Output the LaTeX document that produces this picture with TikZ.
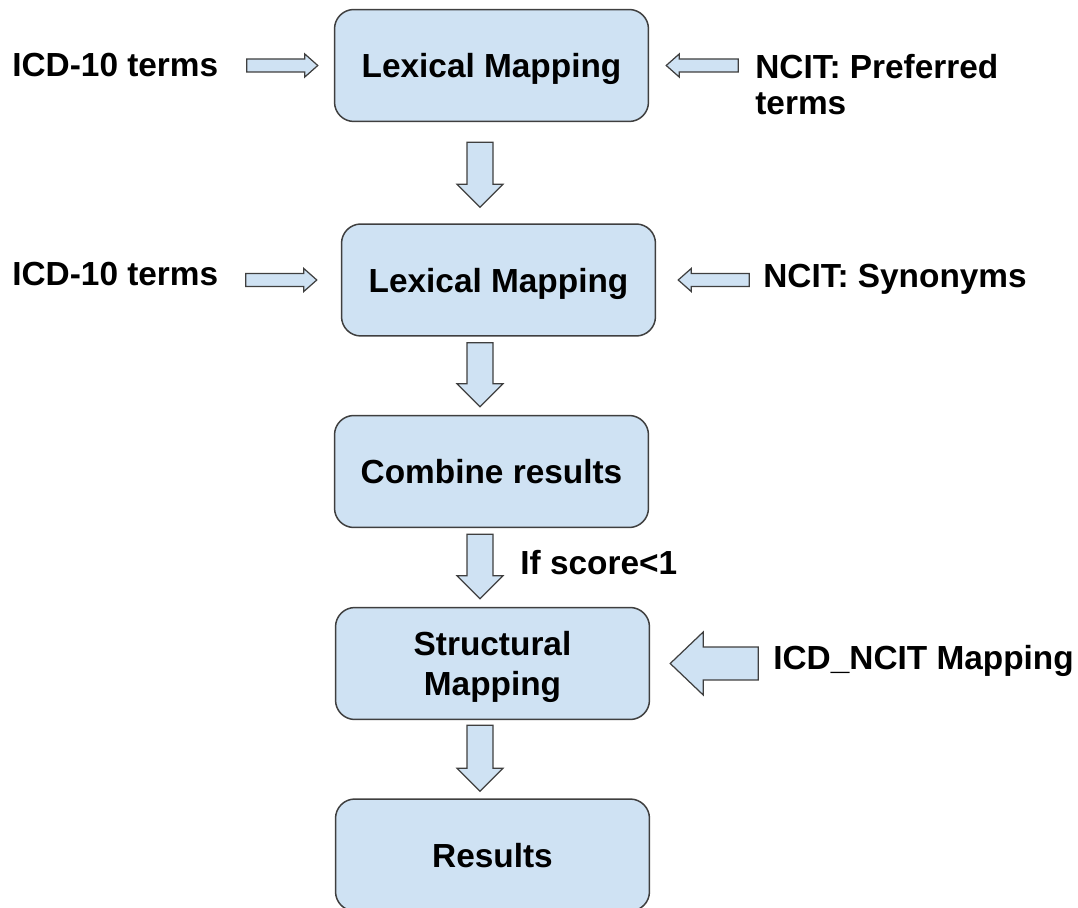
\documentclass[tikz,border=0pt]{standalone}
\usepackage{fontspec}
\setmainfont{Liberation Sans}
\usepackage{tikz}
\usetikzlibrary{calc}

\definecolor{boxfill}{HTML}{CFE2F3}
\definecolor{boxline}{HTML}{3F3F3F}

% block arrow: tail, tip, shaft half width, head half width, head length
\newcommand{\blockarrow}[5]{%
  \coordinate (ba-tl) at (#1);
  \coordinate (ba-tp) at (#2);
  \coordinate (ba-hb) at ($(ba-tp)!#5!(ba-tl)$);
  \draw[blk] ($(ba-tl)!#3!90:(ba-tp)$) -- ($(ba-hb)!#3!90:(ba-tp)$)
    -- ($(ba-hb)!#4!90:(ba-tp)$) -- (ba-tp) -- ($(ba-hb)!#4!-90:(ba-tp)$)
    -- ($(ba-hb)!#3!-90:(ba-tp)$) -- ($(ba-tl)!#3!-90:(ba-tp)$) -- cycle;}

\begin{document}
\begin{tikzpicture}[x=0.02cm,y=-0.02cm,
  box/.style={draw=boxline,fill=boxfill,line width=0.85pt,rounded corners=11pt,
    minimum width=6.28cm,minimum height=2.24cm,inner sep=0pt,align=center,
    text depth=0pt,font=\bfseries\fontsize{19}{22.7}\selectfont},
  lbl/.style={inner sep=0pt,anchor=west,align=left,
    font=\bfseries\fontsize{19}{20.4}\selectfont},
  blk/.style={draw=boxline,fill=boxfill,line width=0.7pt}]
  \useasboundingbox (0,0) rectangle (1078,908);
  \coordinate (spine) at (480,0);

  % main column
  \node[box] (lexa) at (491.5,65.5) {Lexical Mapping};
  \node[box] (lexb) at (498.5,280) {Lexical Mapping};
  \node[box] (comb) at (491.5,471.5) {Combine results};
  \node[box] (struct) at (492.5,663.5) {Structural\\Mapping};
  \node[box] (res) at (492.5,855) {Results};

  % inputs
  \node[lbl] (icda) at (12,65) {ICD-10 terms};
  \node[lbl,anchor=north west] (ncita) at (755,54) {NCIT: Preferred\\terms};
  \node[lbl] (icdb) at (12,274) {ICD-10 terms};
  \node[lbl] (ncitb) at (763,279) {NCIT: Synonyms};
  \node[lbl] (icdncit) at (773,661) {ICD\_NCIT Mapping};
  \node[lbl] (score) at (520,563) {If score<1};

  % down arrows
  \blockarrow{$(lexa.south -| spine)+(0,20)$}{$(lexb.north -| spine)+(0,-16)$}{0.26cm}{0.46cm}{0.46cm}
  \blockarrow{$(lexb.south -| spine)+(0,6)$}{$(comb.north -| spine)+(0,-8)$}{0.26cm}{0.46cm}{0.46cm}
  \blockarrow{$(comb.south -| spine)+(0,6)$}{$(struct.north -| spine)+(0,-8)$}{0.26cm}{0.46cm}{0.46cm}
  \blockarrow{$(struct.south -| spine)+(0,5)$}{$(res.north -| spine)+(0,-7)$}{0.26cm}{0.46cm}{0.46cm}

  % side arrows
  \blockarrow{$(lexa.west)+(-87,0)$}{$(lexa.west)+(-16,0)$}{0.13cm}{0.23cm}{0.26cm}
  \blockarrow{$(lexa.east)+(89,0)$}{$(lexa.east)+(17,0)$}{0.13cm}{0.23cm}{0.26cm}
  \blockarrow{$(lexb.west)+(-95,0)$}{$(lexb.west)+(-24,0)$}{0.13cm}{0.23cm}{0.26cm}
  \blockarrow{$(lexb.east)+(93,0)$}{$(lexb.east)+(22,0)$}{0.13cm}{0.23cm}{0.26cm}
  \blockarrow{$(struct.east)+(108,0)$}{$(struct.east)+(20,0)$}{0.33cm}{0.63cm}{0.66cm}
\end{tikzpicture}
\end{document}
